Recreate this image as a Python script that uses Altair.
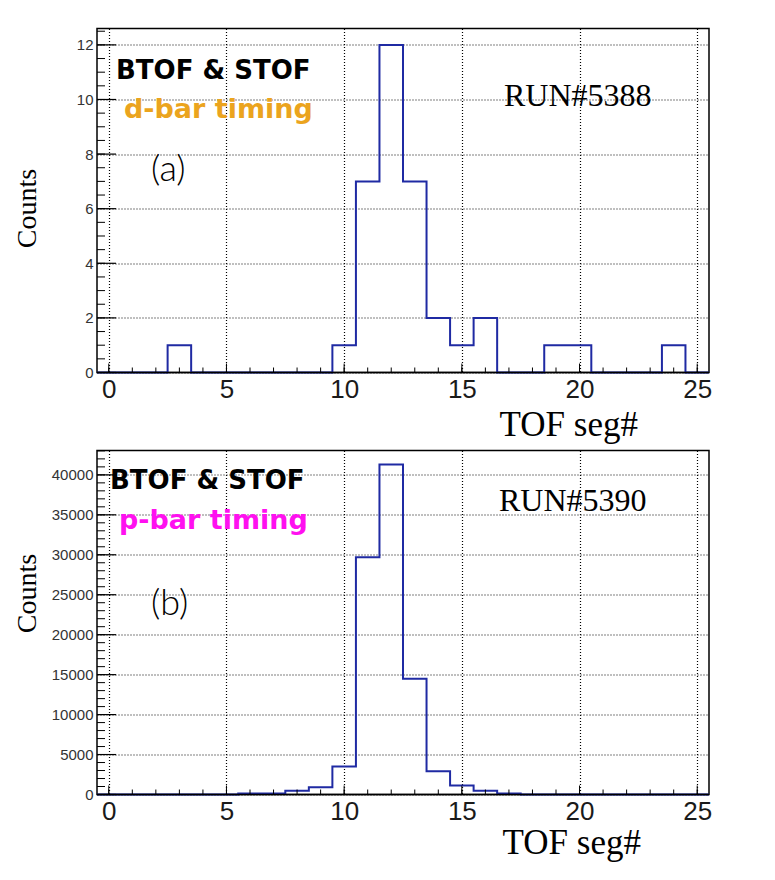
import altair as alt
import pandas as pd

# ---------------- data ----------------
segments = list(range(26))  # TOF seg# bin centres 0..25
counts_a = [0, 0, 0, 1, 0, 0, 0, 0, 0, 0, 1, 7, 12, 7, 2, 1, 2, 0, 0, 1, 1, 0, 0, 0, 1, 0]
counts_b = [0, 0, 0, 0, 0, 0, 120, 120, 480, 900, 3500, 29700, 41300, 14500, 2900, 1120, 480, 120,
            0, 0, 0, 0, 0, 0, 0, 0]

x_major = [0, 5, 10, 15, 20, 25]
x_minor = list(range(26))
y_major_a = [0, 2, 4, 6, 8, 10, 12]
y_minor_a = [v / 2 for v in range(26)]
y_major_b = [0, 5000, 10000, 15000, 20000, 25000, 30000, 35000, 40000]
y_minor_b = [v * 1000 for v in range(44)]
ymax_a = 12.6
ymax_b = 43050

title_x = "TOF seg#"
title_y = "Counts"
tag_line = "BTOF & STOF"
sub_a, sub_b = "d-bar timing", "p-bar timing"
run_a, run_b = "RUN#5388", "RUN#5390"
panel_a, panel_b = "(a)", "(b)"

# ---------------- style ----------------
W = 612
H = 344
BLUE = "#1f2aa3"
ORANGE = "#eba41e"
MAGENTA = "#ff10f0"
SERIF = "Liberation Serif"
HEAVY = "DejaVu Sans"


def txt(s, x, y, size, font, color, weight=400, align="left", angle=0):
    return alt.Chart(alt.Data(values=[{"t": s}])).mark_text(
        align=align, baseline="alphabetic", font=font, fontSize=size,
        fontWeight=weight, color=color, angle=angle
    ).encode(x=alt.value(x), y=alt.value(y), text=alt.Text("t:N"))


def panel(counts, ymax, ymaj, ymin, sub, subcol, run, tag, pos):
    edges = [s - 0.5 for s in segments] + [segments[-1] + 0.5]
    vals = list(counts) + [0]
    df = pd.DataFrame({"edge": edges, "count": vals})
    xs = alt.Scale(domain=[-0.5, 25.5], nice=False, zero=False)
    ys = alt.Scale(domain=[0, ymax], nice=False)
    line = alt.Chart(df).mark_line(interpolate="step-after", color=BLUE, strokeWidth=2).encode(
        x=alt.X("edge:Q", scale=xs, axis=alt.Axis(values=x_major, title=None, grid=True)),
        y=alt.Y("count:Q", scale=ys, axis=alt.Axis(values=ymaj, title=None, grid=True, format="d")),
    )
    base = alt.Chart(pd.DataFrame({"count": [0]})).mark_rule(color="black", strokeWidth=1.5).encode(
        y=alt.Y("count:Q", scale=ys), x=alt.value(0), x2=alt.value(W))
    xt_min = alt.Chart(pd.DataFrame({"edge": x_minor})).mark_rule(color="black", strokeWidth=1).encode(
        x=alt.X("edge:Q", scale=xs), y=alt.value(H), y2=alt.value(H - 5))
    xt_maj = alt.Chart(pd.DataFrame({"edge": x_major})).mark_rule(color="black", strokeWidth=1).encode(
        x=alt.X("edge:Q", scale=xs), y=alt.value(H), y2=alt.value(H - 9))
    yt_min = alt.Chart(pd.DataFrame({"count": ymin})).mark_rule(color="black", strokeWidth=1).encode(
        y=alt.Y("count:Q", scale=ys), x=alt.value(0), x2=alt.value(8))
    yt_maj = alt.Chart(pd.DataFrame({"count": ymaj})).mark_rule(color="black", strokeWidth=1.2).encode(
        y=alt.Y("count:Q", scale=ys), x=alt.value(0), x2=alt.value(19))
    texts = [
        txt(tag, pos["tag"][0], pos["tag"][1], 26, HEAVY, "black", "bold"),
        txt(sub, pos["sub"][0], pos["sub"][1], 27, HEAVY, subcol, "bold"),
        txt(run, pos["run"][0], pos["run"][1], 32, SERIF, "black"),
        txt(pos["lbl"], pos["pl"][0], pos["pl"][1], 36, "Lato", "black", 300),
        txt(title_x, pos["tx"][0], pos["tx"][1], 35, SERIF, "black", align="right"),
        txt(title_y, pos["ty"][0], pos["ty"][1], 28, SERIF, "black", align="center", angle=270),
    ]
    return alt.layer(line, base, xt_min, xt_maj, yt_min, yt_maj, *texts).properties(width=W, height=H)


pos_a = {"tag": (19, 50), "sub": (27, 89), "run": (407, 77), "lbl": panel_a, "pl": (54, 152),
         "tx": (541, 407), "ty": (-61, 180)}
pos_b = {"tag": (13, 38), "sub": (22, 78), "run": (402, 60), "lbl": panel_b, "pl": (54, 164),
         "tx": (544, 403), "ty": (-61, 143)}

top = panel(counts_a, ymax_a, y_major_a, y_minor_a, sub_a, ORANGE, run_a, tag_line, pos_a)
bottom = panel(counts_b, ymax_b, y_major_b, y_minor_b, sub_b, MAGENTA, run_b, tag_line, pos_b)

chart = alt.vconcat(top, bottom, spacing=6).properties(
    padding={"left": 5, "top": 19.5, "right": 5, "bottom": 5},
    background="white",
).configure_view(
    stroke="black", strokeWidth=1.5
).configure_axis(
    domain=False, ticks=False, gridColor="black", gridDash=[1, 2], gridWidth=1.2, gridOpacity=1,
    labelFont="Liberation Sans",
).configure_axisX(
    labelFontSize=26, labelPadding=4, labelColor="#1a1a1a",
).configure_axisY(
    labelFontSize=15, labelPadding=4, labelColor="#333333",
)

chart.save("out.html", embed_options={"renderer": "svg", "actions": False})
